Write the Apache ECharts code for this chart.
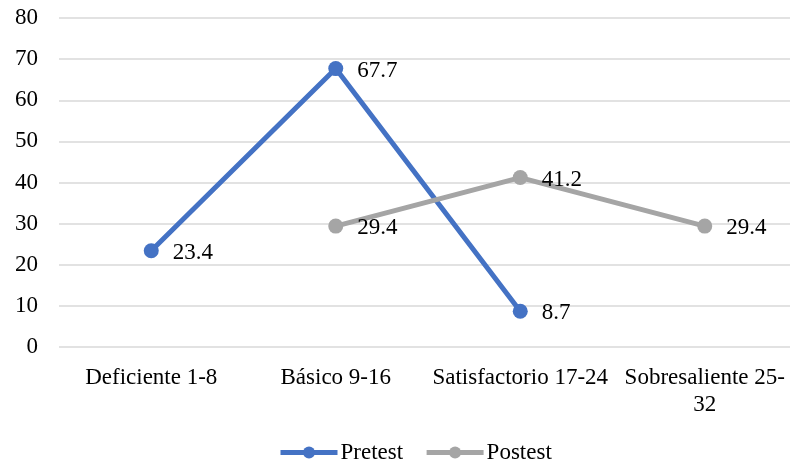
<!DOCTYPE html>
<html>
<head>
<meta charset="utf-8">
<script src="https://cdn.jsdelivr.net/npm/echarts@6/dist/echarts.min.js"></script>
<style>
  html, body { margin: 0; padding: 0; background: #fff; overflow: hidden; }
  #chart { width: 800px; height: 466px; }
</style>
</head>
<body>
<div id="chart"></div>
<script>
// Performance levels (score ranges)
const categories = ['Deficiente 1-8', 'Básico 9-16', 'Satisfactorio 17-24', 'Sobresaliente 25-\n32'];
// Percentages per level; null where a level has no value
const pretest = [23.4, 67.7, 8.7, null];
const postest = [null, 29.4, 41.2, 29.4];
const yTicks = { min: 0, max: 80, step: 10 };

const font = 'Liberation Serif, Times New Roman, serif';
const fs = 23;
const chart = echarts.init(document.getElementById('chart'), null, { renderer: 'canvas' });

function lineSeries(name, data, color) {
  return {
    name: name,
    type: 'line',
    data: data,
    connectNulls: false,
    symbol: 'circle',
    symbolSize: 15,
    lineStyle: { width: 5, color: color },
    itemStyle: { color: color },
    label: {
      show: true,
      position: 'right',
      distance: 14,
      offset: [0, 2],
      color: '#000',
      fontFamily: font,
      fontSize: fs,
      formatter: p => p.value == null ? '' : p.value.toFixed(1)
    },
    emphasis: { disabled: true }
  };
}

chart.setOption({
  animation: false,
  textStyle: { fontFamily: font },
  grid: { left: 59, right: 3, top: 18, bottom: 119, containLabel: false },
  legend: {
    bottom: 2,
    left: 278,
    padding: 0,
    itemWidth: 57,
    itemHeight: 15,
    itemGap: 21,
    lineStyle: { width: 5 },
    textStyle: { fontFamily: font, fontSize: fs, color: '#000', padding: [0, 0, 0, -2] },
    data: ['Pretest', 'Postest']
  },
  xAxis: {
    type: 'category',
    data: categories,
    boundaryGap: true,
    axisLine: { show: false },
    axisTick: { show: false },
    axisLabel: {
      color: '#000', fontFamily: font, fontSize: fs, margin: 17, lineHeight: 27,
      interval: 0
    }
  },
  yAxis: {
    type: 'value',
    min: yTicks.min,
    max: yTicks.max,
    interval: yTicks.step,
    axisLine: { show: false },
    axisTick: { show: false },
    axisLabel: { color: '#000', fontFamily: font, fontSize: fs, margin: 21 },
    splitLine: { lineStyle: { color: '#d9d9d9', width: 1.5 } }
  },
  series: [
    lineSeries('Pretest', pretest, '#4472C4'),
    lineSeries('Postest', postest, '#A5A5A5')
  ]
});
</script>
</body>
</html>
